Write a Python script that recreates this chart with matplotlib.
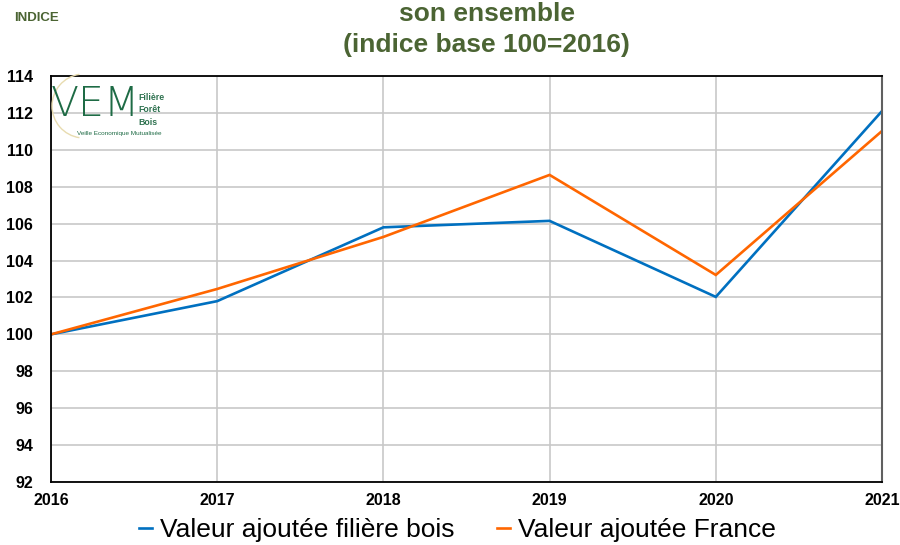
import matplotlib
matplotlib.use("Agg")
import matplotlib.pyplot as plt
from matplotlib.patches import Arc

plt.rcParams['font.family'] = ['Liberation Sans', 'DejaVu Sans']

years = [2016, 2017, 2018, 2019, 2020, 2021]
bois = [100.0, 101.8, 105.8, 106.15, 102.03, 112.1]
france = [100.0, 102.46, 105.28, 108.64, 103.22, 111.02]
yticks = list(range(92, 115, 2))
series_labels = ["Valeur ajoutée filière bois", "Valeur ajoutée France"]

fig = plt.figure(figsize=(9, 5.45), dpi=100)
ax = fig.add_axes([51/900, 1-482/545, (882-51)/900, (482-76)/545])

ax.plot(years, bois, color='#0070c0', lw=1.9, label=series_labels[0], solid_joinstyle='miter')
ax.plot(years, france, color='#ff6600', lw=1.9, label=series_labels[1], solid_joinstyle='miter')

ax.set_xlim(2016, 2021)
ax.set_ylim(92, 114)
ax.set_yticks(yticks)
ax.set_xticks(years)
ax.grid(True, color='#c8c8c8', lw=1.2)
ax.set_axisbelow(True)
ax.tick_params(length=0, labelsize=11.5)
ax.tick_params(axis='y', pad=13)
ax.tick_params(axis='x', pad=8)
for lab in ax.get_xticklabels() + ax.get_yticklabels():
    lab.set_fontweight('bold')
for s in ['left', 'bottom', 'top']:
    ax.spines[s].set_color('#000000')
    ax.spines[s].set_linewidth(1.3)
ax.spines['right'].set_color('#606060')
ax.spines['right'].set_linewidth(1.5)

green = '#4b6433'
fig.text(14/900, 1-18/545, "INDICE", fontsize=9.5, fontweight='bold', color=green, va='center')
fig.text(0.541, 1-14/545, "son ensemble", fontsize=19, fontweight='bold', color=green, ha='center', va='center')
fig.text(0.541, 1-45/545, "(indice base 100=2016)", fontsize=19, fontweight='bold', color=green, ha='center', va='center')

# logo
lg = '#1e6b45'
fig.text(51/900, 1-105/545, "VEM", fontsize=29.5, color=lg, va='center', ha='left',
         family='DejaVu Sans', fontweight='light')
fig.text(138/900, 1-110/545, "Filière\nForêt\nBois", fontsize=6.3, color='#2f7250', va='center',
         linespacing=1.45, fontweight='bold')
fig.text(77/900, 1-133/545, "Veille Economique Mutualisée", fontsize=4.6, color=lg, va='center')
arc = Arc((84/900, 1-106/545), 64/900, 64/545, theta1=95, theta2=265, transform=fig.transFigure,
          color='#e8dcb0', lw=1.0)
fig.patches.append(arc)

leg = fig.legend(loc='center', bbox_to_anchor=(0.508, 1-530/545), ncol=2, frameon=False,
                 fontsize=19, handlelength=0.5, handletextpad=0.3, columnspacing=1.6,
                 borderaxespad=0)

fig.savefig("out.png", dpi=100)
